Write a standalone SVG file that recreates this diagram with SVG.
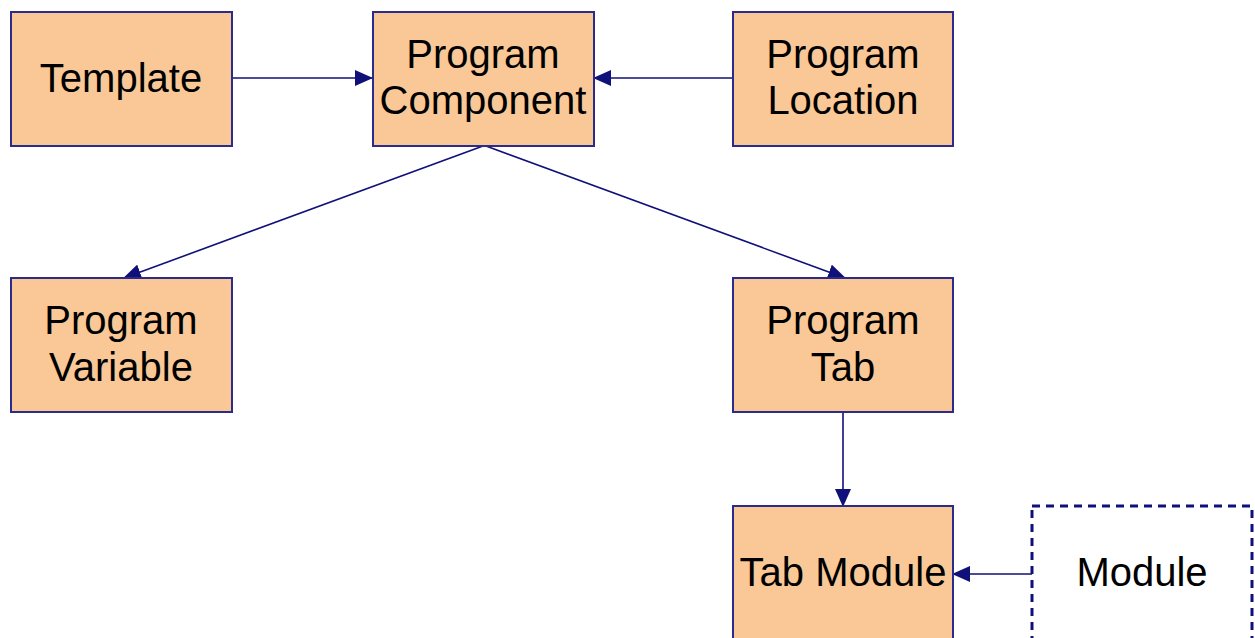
<svg xmlns="http://www.w3.org/2000/svg" width="1255" height="638" viewBox="0 0 1255 638">
<style>
.box{fill:#FAC896;stroke:#2B2B8C;stroke-width:2}
.dash{fill:#FFFFFF;stroke:#10107A;stroke-width:3;stroke-dasharray:8 6}
.lbl{font-family:"Liberation Sans",Arial,sans-serif;font-size:40px;fill:#000;text-anchor:middle}
.edge{stroke:#10107A;stroke-width:1.6;fill:none;marker-end:url(#ah)}
</style>
<defs>
<marker id="ah" markerUnits="userSpaceOnUse" markerWidth="18" markerHeight="16" refX="17" refY="8" orient="auto" viewBox="0 0 18 16">
<path d="M0,0 L18,8 L0,16 z" fill="#10107A"/>
</marker>
</defs>
<rect width="1255" height="638" fill="#FFFFFF"/>
<g id="connectors">
<line class="edge" x1="233" y1="78" x2="372" y2="78"/>
<line class="edge" x1="733" y1="78" x2="594" y2="78"/>
<line class="edge" x1="483" y1="146" x2="124" y2="278"/>
<line class="edge" x1="486" y1="146" x2="845" y2="278"/>
<line class="edge" x1="843" y1="412" x2="843" y2="506"/>
<line class="edge" x1="1032" y1="574" x2="953" y2="574"/>
</g>
<g id="template">
<rect class="box" x="11" y="12" width="221" height="134"/>
<text class="lbl" x="121" y="92">Template</text>
</g>
<g id="program-component">
<rect class="box" x="373" y="12" width="221" height="134"/>
<text class="lbl" x="483" y="68">Program</text>
<text class="lbl" x="483" y="114">Component</text>
</g>
<g id="program-location">
<rect class="box" x="733" y="12" width="220" height="134"/>
<text class="lbl" x="843" y="68">Program</text>
<text class="lbl" x="843" y="114">Location</text>
</g>
<g id="program-variable">
<rect class="box" x="11" y="278" width="221" height="134"/>
<text class="lbl" x="121" y="334">Program</text>
<text class="lbl" x="121" y="381">Variable</text>
</g>
<g id="program-tab">
<rect class="box" x="733" y="278" width="220" height="134"/>
<text class="lbl" x="843" y="334">Program</text>
<text class="lbl" x="843" y="381">Tab</text>
</g>
<g id="tab-module">
<rect class="box" x="733" y="506" width="220" height="150"/>
<text class="lbl" x="843" y="586">Tab Module</text>
</g>
<g id="module">
<rect class="dash" x="1032" y="506" width="220" height="150"/>
<text class="lbl" x="1142" y="586">Module</text>
</g>
</svg>
